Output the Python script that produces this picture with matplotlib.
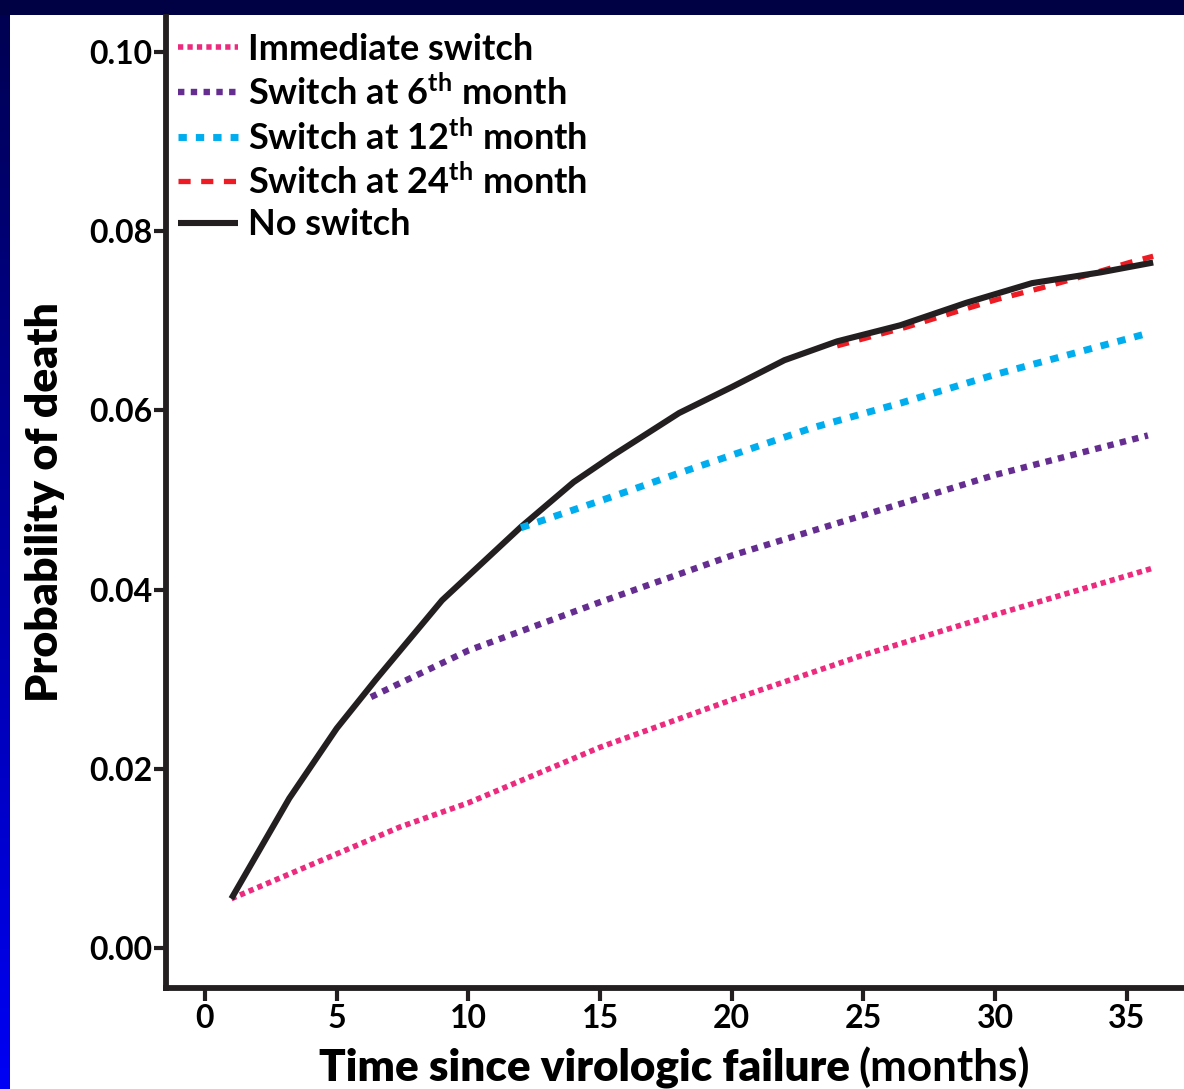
import numpy as np
import matplotlib
matplotlib.use("Agg")
import matplotlib.pyplot as plt
from matplotlib.colors import LinearSegmentedColormap

# ---- data ----
no_switch_x = [1, 3.2, 5, 6.5, 9, 12, 14, 15.5, 18, 20, 22, 24, 26.4, 28.9, 31.4, 32.7, 34, 36]
no_switch_y = [0.0055, 0.0167, 0.0245, 0.0300, 0.0388, 0.0470, 0.0520, 0.0550, 0.0597,
               0.0626, 0.0656, 0.0677, 0.0695, 0.0720, 0.0742, 0.0748, 0.0754, 0.0765]

immediate_x = [1, 5, 7.4, 10, 15, 20, 25, 30, 36]
immediate_y = [0.0055, 0.0105, 0.0135, 0.0162, 0.0224, 0.0277, 0.0327, 0.0372, 0.0424]

m6_x = [6.3, 10, 15, 20, 25, 30, 35.8]
m6_y = [0.0280, 0.0332, 0.0386, 0.0438, 0.0483, 0.0528, 0.0572]

m12_x = [12, 15.3, 18, 20, 23, 26.4, 30, 35.8]
m12_y = [0.0469, 0.0502, 0.0530, 0.0550, 0.0580, 0.0608, 0.0640, 0.0686]

m24_x = [24, 26.65, 28.4, 30.1, 31.8, 33.5, 35.1, 36]
m24_y = [0.0672, 0.0693, 0.0709, 0.0724, 0.0737, 0.0751, 0.0765, 0.0772]

labels = ["Immediate switch", "Switch at 6$^{\\mathrm{th}}$ month",
          "Switch at 12$^{\\mathrm{th}}$ month", "Switch at 24$^{\\mathrm{th}}$ month",
          "No switch"]
xticks = [0, 5, 10, 15, 20, 25, 30, 35]
yticks = [0.00, 0.02, 0.04, 0.06, 0.08, 0.10]

# ---- style ----
plt.rcParams['font.family'] = ['Lato', 'DejaVu Sans']
plt.rcParams['mathtext.fontset'] = 'custom'
plt.rcParams['mathtext.rm'] = 'Lato:bold'
plt.rcParams['mathtext.default'] = 'rm'
plt.rcParams['lines.solid_capstyle'] = 'butt'
plt.rcParams['lines.dash_capstyle'] = 'butt'

W, H = 1184, 1089
fig = plt.figure(figsize=(W / 100, H / 100), dpi=100)
fig.patch.set_facecolor('white')

# decorative frame strips (slide background)
grad = np.linspace(0, 1, 256).reshape(-1, 1)
ax_l = fig.add_axes([0, 0, 10 / W, 1])
cm = LinearSegmentedColormap.from_list('b', ['#000050', '#0000F5'])
ax_l.imshow(grad, aspect='auto', cmap=cm, extent=[0, 1, 1, 0])
ax_l.axis('off')
ax_t = fig.add_axes([0, 1 - 15 / H, 1, 15 / H])
ax_t.set_facecolor('#000044')
ax_t.set_xticks([]); ax_t.set_yticks([])
for s in ax_t.spines.values():
    s.set_visible(False)

left = 166 / W
bottom = 1 - 987.5 / H
top = 1 - 17 / H
ax = fig.add_axes([left, bottom, 1 - left, top - bottom])
ax_w_px = W * (1 - left)
ax_h_px = H * (top - bottom)

black = '#231F20'
l1, = ax.plot(immediate_x, immediate_y, color='#EC2A7E', lw=4.0, dashes=(0.95, 0.75), zorder=2)
l2, = ax.plot(m6_x, m6_y, color='#662D91', lw=4.6, dashes=(1.0, 1.0), zorder=2)
l3, = ax.plot(m12_x, m12_y, color='#00AEEF', lw=5.0, dashes=(1.2, 1.3), zorder=4)
l4, = ax.plot(m24_x, m24_y, color='#ED1C24', lw=3.8, dashes=(2.3, 2.0), zorder=2)
l5, = ax.plot(no_switch_x, no_switch_y, color=black, lw=4.4, zorder=3)

ax.set_xlim(-1.48, 37.17)
ax.set_ylim(-0.00441, 0.1039)
ax.set_xticks(xticks)
ax.set_xticklabels([str(v) for v in xticks])
ax.set_yticks(yticks)
ax.set_yticklabels([f"{v:.2f}" for v in yticks])
ax.tick_params(direction='out', length=9, width=3, color=black, labelsize=23,
               labelcolor='black')
ax.tick_params(axis='x', pad=3)
ax.tick_params(axis='y', pad=0.5)
for lab in ax.get_xticklabels() + ax.get_yticklabels():
    lab.set_fontweight('bold')

for s in ['top', 'right']:
    ax.spines[s].set_visible(False)
for s in ['left', 'bottom']:
    ax.spines[s].set_linewidth(4.2)
    ax.spines[s].set_color(black)
ax.patch.set_alpha(0)

ax.set_ylabel("Probability of death", fontsize=32, fontweight='heavy')
ax.yaxis.set_label_coords((65 - 166) / ax_w_px, 0.5)

# x label: bold part + lighter part
fig.text(850 / W, 1 - 1081 / H, "Time since virologic failure", fontsize=31.7,
         fontweight='heavy', ha='right', va='baseline')
fig.text(858 / W, 1 - 1081 / H, "(months)", fontsize=31.7, fontweight='bold',
         ha='left', va='baseline')

leg = ax.legend([l1, l2, l3, l4, l5], labels, loc='upper left',
                bbox_to_anchor=(12 / ax_w_px, 1.0 - 16 / ax_h_px), borderaxespad=0,
                borderpad=0, frameon=False, handlelength=1.66,
                handletextpad=0.28, labelspacing=0.23,
                prop={'weight': 'bold', 'size': 26})

fig.savefig('out.png', dpi=100, facecolor=fig.get_facecolor())
